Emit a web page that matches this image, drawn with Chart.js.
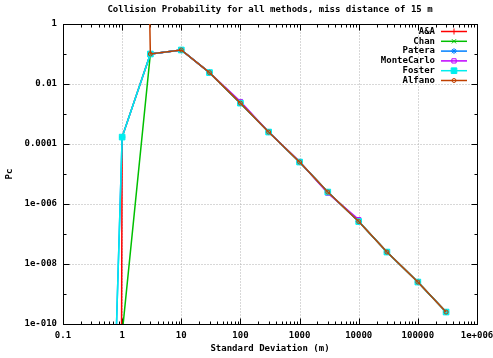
<!DOCTYPE html>
<html>
<head>
<meta charset="utf-8">
<title>Collision Probability</title>
<script src="https://cdn.jsdelivr.net/npm/chart.js@4.4.1/dist/chart.umd.min.js"></script>
<style>
  html, body { margin: 0; padding: 0; background: #fff; }
  canvas { display: block; }
</style>
</head>
<body>
<canvas id="pcChart" width="493" height="358"></canvas>
<script>
// Standard deviation (m) -> collision probability
const sigmaNear = [0.5, 1];
const sigmaTail = [3, 10, 30, 100, 300, 1000, 3000, 10000, 30000, 100000, 300000];
const pcTail = [0.1, 0.136, 0.024, 0.0023, 2.5e-4, 2.5e-5, 2.5e-6, 2.6e-7, 2.5e-8, 2.5e-9, 2.5e-10];

const aaNear = [1e-200, 1.7e-4];
const chanNear = [1e-30, 4.7e-11];
const pateraNear = [3e-24, 1.7e-4];
const fosterNear = [3e-24, 1.7e-4];

const mcSigma = [3, 10, 30, 100, 300, 1000, 3000, 10000];
const mcPc = [0.1, 0.136, 0.024, 0.0026, 2.5e-4, 2.6e-5, 2.3e-6, 3.0e-7];

const alfanoSigma = [1];
const alfanoNear = [1e50];

// axis ticks
const xTickValues = [0.1, 1, 10, 100, 1000, 10000, 100000, 1000000];
const xTickLabels = ['0.1', '1', '10', '100', '1000', '10000', '100000', '1e+006'];
const yTickValues = [1e-10, 1e-8, 1e-6, 1e-4, 0.01, 1];
const yTickLabels = ['1e-010', '1e-008', '1e-006', '0.0001', '0.01', '1'];

const FONT_FAMILY = "'DejaVu Sans Mono', 'Liberation Mono', monospace";
const labelFont = { family: FONT_FAMILY, size: 9, weight: 'bold' };

function toPoints(xs, ys) {
    return xs.map((x, i) => ({ x: x, y: ys[i] }));
}

function labelFor(values, labels, v) {
    const i = values.findIndex(t => Math.abs(Math.log10(t) - Math.log10(v)) < 1e-6);
    return i >= 0 ? labels[i] : '';
}

function series(label, xs, ys, color, style, radius, fill, order) {
    return {
        label: label,
        data: toPoints(xs, ys),
        borderColor: color,
        backgroundColor: fill ? color : 'rgba(0,0,0,0)',
        borderWidth: 1.5,
        pointStyle: style,
        pointRadius: radius,
        pointBorderWidth: 1,
        pointBorderColor: color,
        pointBackgroundColor: fill ? color : 'rgba(0,0,0,0)',
        tension: 0,
        fill: false,
        order: order
    };
}

// gnuplot style frame: dotted grid, inward ticks, border
const frame = {
    id: 'frame',
    beforeDatasetsDraw(chart) {
        const { ctx, chartArea: a, scales: { x, y } } = chart;
        const L = a.left + 0.5, R = a.right + 0.5, T = a.top + 0.5, B = a.bottom + 0.5;
        ctx.save();
        ctx.lineWidth = 1;

        ctx.strokeStyle = '#b0b0b0';
        ctx.setLineDash([1, 2]);
        ctx.beginPath();
        xTickValues.slice(1, -1).forEach(v => {
            const px = Math.round(x.getPixelForValue(v)) + 0.5;
            ctx.moveTo(px, B); ctx.lineTo(px, T);
        });
        yTickValues.slice(1, -1).forEach(v => {
            const py = Math.round(y.getPixelForValue(v)) + 0.5;
            ctx.moveTo(L, py); ctx.lineTo(R, py);
        });
        ctx.stroke();
        ctx.setLineDash([]);

        ctx.strokeStyle = '#000';
        ctx.beginPath();
        for (let d = -1; d <= 6; d++) {
            for (let k = 1; k <= 9; k++) {
                if (d === 6 && k > 1) break;
                const px = Math.round(x.getPixelForValue(k * Math.pow(10, d))) + 0.5;
                const len = k === 1 ? 6 : 3;
                ctx.moveTo(px, B); ctx.lineTo(px, B - len);
                ctx.moveTo(px, T); ctx.lineTo(px, T + len);
            }
        }
        for (let d = -10; d <= 0; d++) {
            const py = Math.round(y.getPixelForValue(Math.pow(10, d))) + 0.5;
            const len = d % 2 === 0 ? 6 : 3;
            ctx.moveTo(L, py); ctx.lineTo(L + len, py);
            ctx.moveTo(R, py); ctx.lineTo(R - len, py);
        }
        ctx.stroke();

        ctx.strokeRect(L, T, R - L, B - T);
        ctx.restore();
    },
    afterDraw(chart) {
        const { ctx, chartArea: a } = chart;
        ctx.save();
        ctx.font = 'bold 9px ' + FONT_FAMILY;
        ctx.fillStyle = '#000';
        ctx.textAlign = 'center';
        ctx.textBaseline = 'middle';
        ctx.fillText('Collision Probability for all methods, miss distance of 15 m', (a.left + a.right) / 2, 9.5);

        // legend, top right inside the plot
        ctx.textAlign = 'right';
        chart.data.datasets.forEach((ds, i) => {
            const yy = 31.5 + i * 9.8;
            ctx.fillStyle = '#000';
            ctx.fillText(ds.label, 435, yy);
            ctx.strokeStyle = ds.borderColor;
            ctx.lineWidth = 1.5;
            ctx.beginPath();
            ctx.moveTo(441, yy); ctx.lineTo(467, yy);
            ctx.stroke();
            ctx.lineWidth = 1;
            ctx.fillStyle = ds.pointBackgroundColor;
            Chart.helpers.drawPoint(ctx, {
                pointStyle: ds.pointStyle, radius: ds.pointRadius, rotation: 0, borderWidth: 1
            }, 454, yy);
        });
        ctx.restore();
    }
};

new Chart(document.getElementById('pcChart'), {
    type: 'line',
    data: {
        datasets: [
            series('A&A', sigmaNear.concat(sigmaTail), aaNear.concat(pcTail), '#ff0000', 'cross', 3, false, 6),
            series('Chan', sigmaNear.concat(sigmaTail), chanNear.concat(pcTail), '#00c000', 'crossRot', 3, false, 5),
            series('Patera', sigmaNear.concat(sigmaTail), pateraNear.concat(pcTail), '#0080ff', 'star', 3, false, 4),
            series('MonteCarlo', mcSigma, mcPc, '#c000ff', 'rect', 3, false, 3),
            series('Foster', sigmaNear.concat(sigmaTail), fosterNear.concat(pcTail), '#00eeee', 'rect', 4, true, 2),
            series('Alfano', alfanoSigma.concat(sigmaTail), alfanoNear.concat(pcTail), '#c04000', 'circle', 2, false, 1)
        ]
    },
    options: {
        responsive: false,
        animation: false,
        events: [],
        layout: { padding: { top: 24, right: 16, left: 0, bottom: 0 } },
        plugins: {
            legend: { display: false },
            tooltip: { enabled: false },
            title: { display: false }
        },
        scales: {
            x: {
                type: 'logarithmic',
                position: 'bottom',
                min: 0.1,
                max: 1000000,
                grid: { display: false, drawTicks: false },
                border: { display: false },
                ticks: {
                    autoSkip: false, maxRotation: 0, minRotation: 0, padding: 6,
                    color: '#000', font: labelFont,
                    callback: v => labelFor(xTickValues, xTickLabels, v)
                },
                title: { display: true, text: 'Standard Deviation (m)', color: '#000', font: labelFont },
                afterBuildTicks: s => { s.ticks = xTickValues.map(v => ({ value: v })); },
                afterFit: s => { s.height = 34; s.paddingLeft = 0; s.paddingRight = 0; }
            },
            y: {
                type: 'logarithmic',
                position: 'left',
                min: 1e-10,
                max: 1,
                grid: { display: false, drawTicks: false },
                border: { display: false },
                ticks: {
                    autoSkip: false, padding: 6,
                    color: '#000', font: labelFont,
                    callback: v => labelFor(yTickValues, yTickLabels, v)
                },
                title: { display: true, text: 'Pc', color: '#000', font: labelFont },
                afterBuildTicks: s => { s.ticks = yTickValues.map(v => ({ value: v })); },
                afterFit: s => { s.width = 63; s.paddingTop = 0; s.paddingBottom = 0; }
            }
        }
    },
    plugins: [frame]
});
</script>
</body>
</html>
